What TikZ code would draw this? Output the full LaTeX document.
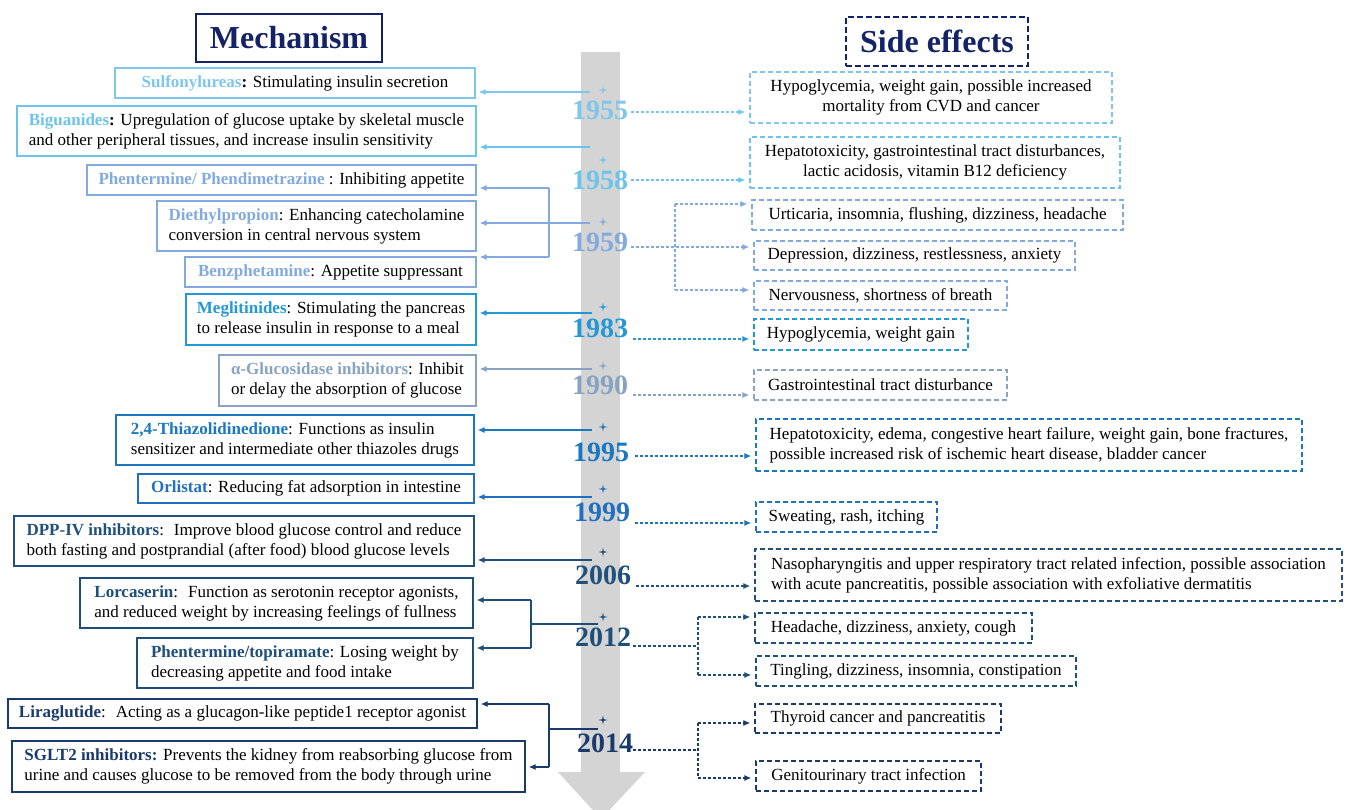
\documentclass[tikz,border=0pt]{standalone}
\usepackage{fontspec}
\setmainfont{Liberation Serif}
\usetikzlibrary{arrows.meta}
\usetikzlibrary{calc}

\definecolor{navy}{RGB}{20,34,102}
\definecolor{barcol}{RGB}{212,212,212}
\definecolor{c55}{RGB}{126,198,235}
\definecolor{c58}{RGB}{108,196,236}
\definecolor{c59}{RGB}{130,170,222}
\definecolor{c83}{RGB}{35,152,214}
\definecolor{c90}{RGB}{136,163,193}
\definecolor{c95}{RGB}{26,120,192}
\definecolor{c99}{RGB}{33,112,192}
\definecolor{c06}{RGB}{33,80,125}
\definecolor{c12}{RGB}{30,78,122}
\definecolor{c14}{RGB}{27,58,108}

\newcommand{\drug}[2]{\textbf{\color{#1}#2}}

\begin{document}
\begin{tikzpicture}
[x=1pt,y=-1pt,>={Latex[length=7pt,width=6pt]},
 every node/.style={font=\fontsize{17}{20}\selectfont},
 mech/.style={draw=#1,line width=1.4pt,align=left,inner sep=0pt},
 side/.style={draw=#1,line width=1.3pt,dash pattern=on 5pt off 3pt,align=left,inner sep=0pt},
 year/.style={text=#1,font=\fontsize{28}{28}\selectfont\bfseries,inner sep=0pt},
 marr/.style={draw=#1,line width=1.1pt,->,shorten >=3pt},
 mline/.style={draw=#1,line width=1.1pt},
 sarr/.style={draw=#1,line width=1.2pt,dash pattern=on 3pt off 2pt,->,shorten >=4pt},
 sline/.style={draw=#1,line width=1.2pt,dash pattern=on 3pt off 2pt}]

\useasboundingbox (0,0) rectangle (1347,810);

% time bar
\fill[barcol] (581,52) rectangle (620,772);
\begin{scope}
\clip (0,0) rectangle (1347,810);
\fill[barcol] (558,772) -- (645,772) -- (601,819) -- cycle;
\end{scope}

\foreach \y/\col in {90/c55,160/c58,222/c59,307/c83,366/c90,427/c95,489/c99,552/c06,617/c12,720/c14}
\fill[\col,shift={(603,\y)}] (0,-4.5) -- (0.8,-0.8) -- (4.5,0) -- (0.8,0.8) -- (0,4.5) -- (-0.8,0.8) -- (-4.5,0) -- (-0.8,-0.8) -- cycle;

% titles
\node[draw=navy,line width=2pt,minimum width=186pt,minimum height=48pt,text=navy,font=\fontsize{32}{32}\selectfont\bfseries] (mech) at (289,38) {Mechanism};
\node[draw=navy,line width=2pt,dash pattern=on 6pt off 3pt,minimum width=182pt,minimum height=49pt,text=navy,font=\fontsize{32}{32}\selectfont\bfseries] (side) at (937,41.5) {Side effects};

% years
\node[year=c55] (y55) at (600,110) {1955};
\node[year=c58] (y58) at (600,180) {1958};
\node[year=c59] (y59) at (600,242) {1959};
\node[year=c83] (y83) at (600,328) {1983};
\node[year=c90] (y90) at (600,385) {1990};
\node[year=c95] (y95) at (601,452) {1995};
\node[year=c99] (y99) at (602,512) {1999};
\node[year=c06] (y06) at (603,575) {2006};
\node[year=c12] (y12) at (603,637) {2012};
\node[year=c14] (y14) at (605,743) {2014};

% mechanism boxes
\node[mech=c55,minimum width=360pt,minimum height=30pt] (sulf) at (295,83) {\drug{c55}{Sulfonylureas}\textbf{:} Stimulating insulin secretion};
\node[mech=c58,minimum width=459pt,minimum height=50pt] (bigu) at (246.5,131) {\drug{c58}{Biguanides}\textbf{:} Upregulation of glucose uptake by skeletal muscle\\and other peripheral tissues, and increase insulin sensitivity};
\node[mech=c59,minimum width=389pt,minimum height=30pt] (phen) at (281.5,180) {\drug{c59}{Phentermine/ Phendimetrazine} : Inhibiting appetite};
\node[mech=c59,minimum width=319pt,minimum height=50pt] (diet) at (316.5,226) {\drug{c59}{Diethylpropion}: Enhancing catecholamine\\conversion in central nervous system};
\node[mech=c59,minimum width=291pt,minimum height=30pt] (benz) at (330.5,272) {\drug{c59}{Benzphetamine}: Appetite suppressant};
\node[mech=c83,minimum width=290pt,minimum height=51pt] (megl) at (331,319.5) {\drug{c83}{Meglitinides}: Stimulating the pancreas\\to release insulin in response to a meal};
\node[mech=c90,minimum width=257pt,minimum height=51pt] (gluc) at (347.5,380.5) {\drug{c90}{α-Glucosidase inhibitors}: Inhibit\\or delay the absorption of glucose};
\node[mech=c95,minimum width=358pt,minimum height=50pt] (thia) at (295,440) {\drug{c95}{2,4-Thiazolidinedione}: Functions as insulin\\sensitizer and intermediate other thiazoles drugs};
\node[mech=c99,minimum width=336pt,minimum height=29pt] (orli) at (306,488.5) {\drug{c99}{Orlistat}: Reducing fat adsorption in intestine};
\node[mech=c06,minimum width=460pt,minimum height=50pt] (dpp) at (244,541) {\drug{c06}{DPP-IV inhibitors}:~ Improve blood glucose control and reduce\\both fasting and postprandial (after food) blood glucose levels};
\node[mech=c12,minimum width=393pt,minimum height=50pt] (lorc) at (276.5,603) {\drug{c12}{Lorcaserin}:~ Function as serotonin receptor agonists,\\and reduced weight by increasing feelings of fullness};
\node[mech=c12,minimum width=336pt,minimum height=50pt] (phto) at (305,663) {\drug{c12}{Phentermine/topiramate}: Losing weight by\\decreasing appetite and food intake};
\node[mech=c14,minimum width=469pt,minimum height=29pt] (lira) at (242.5,713.5) {\drug{c14}{Liraglutide}:~ Acting as a glucagon-like peptide1 receptor agonist};
\node[mech=c14,minimum width=513pt,minimum height=51pt] (sglt) at (268.5,766.5) {\drug{c14}{SGLT2 inhibitors:} Prevents the kidney from reabsorbing glucose from\\urine and causes glucose to be removed from the body through urine};

% side effect boxes
\node[side=c55,align=center,minimum width=362pt,minimum height=51pt] (se55) at (931,97.5) {Hypoglycemia, weight gain, possible increased\\mortality from CVD and cancer};
\node[side=c58,align=center,minimum width=370pt,minimum height=51pt] (se58) at (935,162.5) {Hepatotoxicity, gastrointestinal tract disturbances,\\lactic acidosis, vitamin B12 deficiency};
\node[side=c59,minimum width=371pt,minimum height=30pt] (se59a) at (937.5,215) {Urticaria, insomnia, flushing, dizziness, headache};
\node[side=c59,minimum width=321pt,minimum height=29pt] (se59b) at (914.5,255.5) {Depression, dizziness, restlessness, anxiety};
\node[side=c59,minimum width=253pt,minimum height=29pt] (se59c) at (880.5,295.5) {Nervousness, shortness of breath};
\node[side=c83,minimum width=214pt,minimum height=31pt] (se83) at (861,334.5) {Hypoglycemia, weight gain};
\node[side=c90,minimum width=253pt,minimum height=30pt] (se90) at (880.5,385) {Gastrointestinal tract disturbance};
\node[side=c95,minimum width=546pt,minimum height=52pt] (se95) at (1029,445) {Hepatotoxicity, edema, congestive heart failure, weight gain, bone fractures,\\possible increased risk of ischemic heart disease, bladder cancer};
\node[side=c99,minimum width=181pt,minimum height=30pt] (se99) at (846.5,517) {Sweating, rash, itching};
\node[side=c06,minimum width=587pt,minimum height=52pt] (se06) at (1048.5,575) {Nasopharyngitis and upper respiratory tract related infection, possible association\\with acute pancreatitis, possible association with exfoliative dermatitis};
\node[side=c12,minimum width=277pt,minimum height=30pt] (se12a) at (893.5,628) {Headache, dizziness, anxiety, cough};
\node[side=c12,minimum width=320pt,minimum height=30pt] (se12b) at (916,671) {Tingling, dizziness, insomnia, constipation};
\node[side=c14,minimum width=246pt,minimum height=29pt] (se14a) at (878,718.5) {Thyroid cancer and pancreatitis};
\node[side=c14,minimum width=225pt,minimum height=30pt] (se14b) at (868.5,776) {Genitourinary tract infection};

% mechanism arrows
\coordinate (a55) at (590,92);
\coordinate (a58) at (590,147);
\coordinate (a59) at (590,223);
\coordinate (j59) at (549,188);
\coordinate (k59) at (549,257);
\coordinate (a83) at (592,313);
\coordinate (a90) at (592,369);
\coordinate (a95) at (592,430);
\coordinate (a99) at (592,497);
\coordinate (a06) at (592,560);
\coordinate (a12) at (598,624);
\coordinate (j12) at (531,600);
\coordinate (k12) at (531,648);
\coordinate (a14) at (598,729);
\coordinate (j14) at (549,704);
\coordinate (k14) at (549,767);

\draw[marr=c55] (a55) -- (a55 -| sulf.east);
\draw[marr=c58] (a58) -- (a58 -| bigu.east);
\draw[mline=c59] (j59) -- (k59);
\draw[marr=c59] (j59) -- (j59 -| phen.east);
\draw[marr=c59] (a59) -- (a59 -| diet.east);
\draw[marr=c59] (k59) -- (k59 -| benz.east);
\draw[marr=c83] (a83) -- (a83 -| megl.east);
\draw[marr=c90] (a90) -- (a90 -| gluc.east);
\draw[marr=c95] (a95) -- (a95 -| thia.east);
\draw[marr=c99] (a99) -- (a99 -| orli.east);
\draw[marr=c06] (a06) -- (a06 -| dpp.east);
\draw[mline=c12] (a12) -- (a12 -| j12);
\draw[mline=c12] (j12) -- (k12);
\draw[marr=c12] (j12) -- (j12 -| lorc.east);
\draw[marr=c12] (k12) -- (k12 -| phto.east);
\draw[mline=c14] (a14) -- (a14 -| j14);
\draw[mline=c14] (j14) -- (k14);
\draw[marr=c14] (j14) -- (j14 -| lira.east);
\draw[marr=c14] (k14) -- (k14 -| sglt.east);

% side effect arrows
\coordinate (s55) at (631,112);
\coordinate (s58) at (631,180);
\coordinate (s59) at (631,247);
\coordinate (v59) at (675,204);
\coordinate (w59) at (675,290);
\coordinate (s83) at (633,339);
\coordinate (s90) at (633,395);
\coordinate (s95) at (635,456);
\coordinate (s99) at (635,523);
\coordinate (s06) at (636,586);
\coordinate (s12) at (633,646);
\coordinate (v12) at (698,617);
\coordinate (w12) at (698,675);
\coordinate (s14) at (633,750);
\coordinate (v14) at (698,723);
\coordinate (w14) at (698,778);

\draw[sarr=c55] (s55) -- (s55 -| se55.west);
\draw[sarr=c58] (s58) -- (s58 -| se58.west);
\draw[sarr=c59] (s59) -- (s59 -| se59b.west);
\draw[sline=c59] (v59) -- (w59);
\draw[sarr=c59] (v59) -- (v59 -| se59a.west);
\draw[sarr=c59] (w59) -- (w59 -| se59c.west);
\draw[sarr=c83] (s83) -- (s83 -| se83.west);
\draw[sarr=c90] (s90) -- (s90 -| se90.west);
\draw[sarr=c95] (s95) -- (s95 -| se95.west);
\draw[sarr=c99] (s99) -- (s99 -| se99.west);
\draw[sarr=c06] (s06) -- (s06 -| se06.west);
\draw[sline=c12] (s12) -- (s12 -| v12);
\draw[sline=c12] (v12) -- (w12);
\draw[sarr=c12] (v12) -- (v12 -| se12a.west);
\draw[sarr=c12] (w12) -- (w12 -| se12b.west);
\draw[sline=c14] (s14) -- (s14 -| v14);
\draw[sline=c14] (v14) -- (w14);
\draw[sarr=c14] (v14) -- (v14 -| se14a.west);
\draw[sarr=c14] (w14) -- (w14 -| se14b.west);

\end{tikzpicture}
\end{document}
